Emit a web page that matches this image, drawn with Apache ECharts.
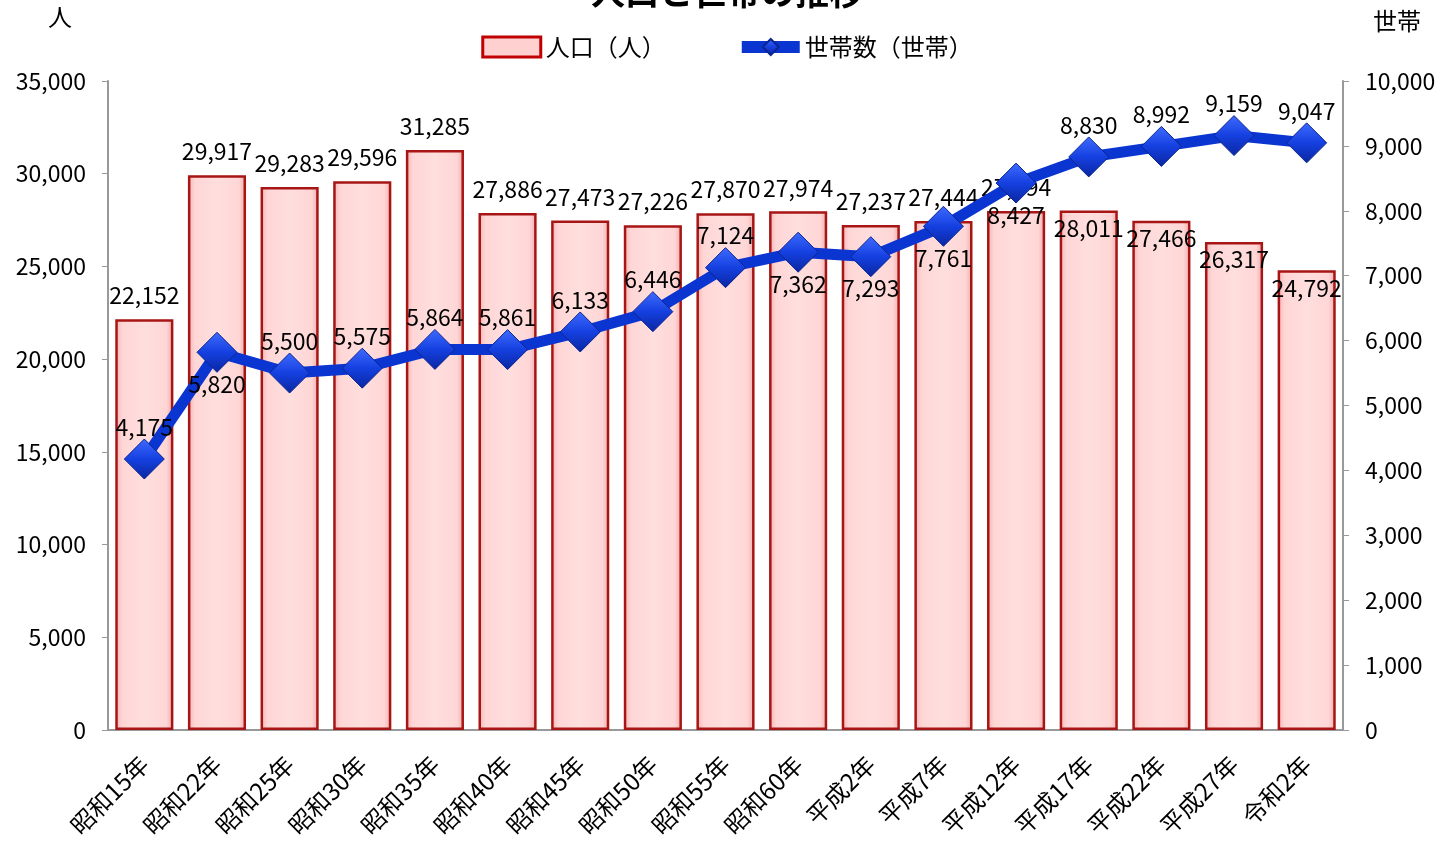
<!DOCTYPE html>
<html><head><meta charset="utf-8">
<script src="https://cdn.jsdelivr.net/npm/echarts@6/dist/echarts.min.js"></script>
<style>html,body{margin:0;padding:0;background:#fff}#c{width:1454px;height:846px}</style>
</head><body><div id="c"></div>
<script>
const categories = ['昭和15年','昭和22年','昭和25年','昭和30年','昭和35年','昭和40年','昭和45年','昭和50年','昭和55年','昭和60年','平成2年','平成7年','平成12年','平成17年','平成22年','平成27年','令和2年'];
const population = [22152,29917,29283,29596,31285,27886,27473,27226,27870,27974,27237,27444,27994,28011,27466,26317,24792];
const households = [4175,5820,5500,5575,5864,5861,6133,6446,7124,7362,7293,7761,8427,8830,8992,9159,9047];
const popInside = [false,false,false,false,false,false,false,false,false,false,false,false,false,true,true,true,true];
const hhBelow = [false,true,false,false,false,false,false,false,false,true,true,true,true,false,false,false,false];

const font = '"Noto Sans CJK JP", "Noto Sans", sans-serif';
const fmt = v => v.toLocaleString('en-US');

const barGrad = {type:'linear',x:0,y:0,x2:1,y2:0,colorStops:[
  {offset:0,color:'#f4b0b0'},{offset:0.12,color:'#ffd6d6'},{offset:0.5,color:'#ffdede'},{offset:0.88,color:'#ffd6d6'},{offset:1,color:'#eea8a8'}]};
const diaGrad = {type:'linear',x:0,y:0,x2:0,y2:1,colorStops:[
  {offset:0,color:'#3f6bff'},{offset:0.5,color:'#1540e0'},{offset:1,color:'#0a26a0'}]};

const chart = echarts.init(document.getElementById('c'));
chart.setOption({
  animation:false,
  textStyle:{fontFamily:font},
  title:{text:'人口と世帯の推移',left:'center',top:-30,textStyle:{fontSize:34,fontWeight:'bold',color:'#000',fontFamily:font}},
  legend:{top:30,left:'center',itemGap:70,itemWidth:58,itemHeight:20,
    textStyle:{fontSize:24,color:'#000',fontFamily:font},
    data:[{name:'人口（人）',icon:'rect',itemStyle:{color:'#ffd0d0',borderColor:'#c00000',borderWidth:3}},
          {name:'世帯数（世帯）',lineStyle:{width:12,color:'#0a35d0'}}]},
  grid:{left:108,right:111,top:81,bottom:116,containLabel:false},
  xAxis:{type:'category',data:categories,
    axisLine:{lineStyle:{color:'#999',width:2}},axisTick:{show:false},
    axisLabel:{rotate:45,fontSize:24,color:'#000',interval:0,margin:30,fontFamily:font}},
  yAxis:[
    {type:'value',min:0,max:35000,interval:5000,name:'人',nameLocation:'end',nameGap:52,
     nameTextStyle:{fontSize:24,color:'#000',align:'right',padding:[0,36,0,0]},
     axisLine:{show:true,lineStyle:{color:'#999',width:2}},axisTick:{show:true,length:6,lineStyle:{color:'#999'}},splitLine:{show:false},
     axisLabel:{fontSize:23,color:'#000',margin:22,formatter:v=>fmt(v)}},
    {type:'value',min:0,max:10000,interval:1000,name:'世帯',nameLocation:'end',nameGap:48,
     nameTextStyle:{fontSize:24,color:'#000',align:'left',padding:[0,0,0,30]},
     axisLine:{show:true,lineStyle:{color:'#999',width:2}},axisTick:{show:true,length:6,lineStyle:{color:'#999'}},splitLine:{show:false},
     axisLabel:{fontSize:23,color:'#000',margin:22,formatter:v=>fmt(v)}}
  ],
  series:[
    {name:'人口（人）',type:'bar',yAxisIndex:0,barCategoryGap:'20%',
     itemStyle:{color:barGrad,borderColor:'#a81515',borderWidth:2.5},
     data:population.map((v,i)=>({value:v,label:{show:true,position:popInside[i]?'insideTop':'top',distance:popInside[i]?6:12,
       formatter:p=>fmt(p.value),fontSize:23,color:'#000',fontFamily:font}}))},
    {name:'世帯数（世帯）',type:'line',yAxisIndex:1,
     lineStyle:{color:'#0a35d0',width:11},
     itemStyle:{color:diaGrad,borderColor:'#0a2590',borderWidth:1},
     symbol:'diamond',symbolSize:40,
     data:households.map((v,i)=>({value:v,label:{show:true,position:hhBelow[i]?'bottom':'top',distance:0,
       formatter:p=>fmt(p.value),fontSize:23,color:'#000',fontFamily:font}}))}
  ]
});
</script></body></html>
